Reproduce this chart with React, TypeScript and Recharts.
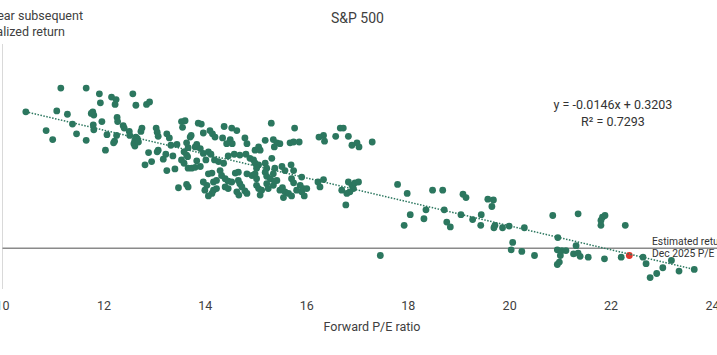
import React from 'react';
import { ScatterChart, Scatter, XAxis, YAxis, ReferenceLine } from 'recharts';

// Forward P/E ratio (x) and subsequent annualized return (y)
const forwardPE = [
  10.46, 10.86, 10.99, 11.07, 11.15, 11.28, 11.38, 11.46, 11.65, 11.65,
  11.78, 11.8, 11.75, 11.79, 11.8, 11.91, 11.93, 11.96, 12.03, 12.06,
  12.15, 12.24, 12.22, 12.26, 12.27, 12.25, 12.21, 12.19, 12.38, 12.4,
  12.5, 12.51, 12.57, 12.63, 12.63, 12.61, 12.59, 12.61, 12.66, 12.68,
  12.75, 12.73, 12.84, 12.9, 12.88, 12.81, 12.94, 13.03, 13.05, 13.07,
  13.07, 13.05, 13.17, 13.24, 13.29, 13.32, 13.22, 13.44, 13.36, 13.24,
  13.4, 13.53, 13.6, 13.55, 13.58, 13.63, 13.66, 13.53, 13.58, 13.66,
  13.47, 13.63, 13.66, 13.7, 13.86, 13.92, 14.37, 15.3, 15.76, 13.72,
  13.96, 14.09, 14.14, 14.19, 14.34, 14.52, 14.62, 14.49, 14.53, 14.42,
  14.78, 14.82, 14.98, 15.05, 15.08, 15.18, 15.34, 15.41, 15.36, 15.47,
  15.67, 15.74, 15.85, 13.63, 13.83, 13.8, 13.9, 13.96, 14.06, 14.11,
  14.01, 14.18, 13.65, 13.83, 13.73, 13.8, 13.9, 14.26, 14.36, 14.45,
  14.57, 14.68, 14.8, 14.88, 14.95, 14.98, 15.05, 15.01, 15.18, 15.21,
  15.31, 15.37, 15.51, 15.57, 15.69, 15.74, 15.9, 14.06, 14.13, 14.29,
  14.32, 14.59, 14.65, 14.82, 14.92, 14.98, 15.01, 15.18, 15.21, 15.28,
  15.34, 15.41, 15.7, 15.74, 13.96, 14.03, 13.99, 14.16, 14.22, 14.39,
  14.45, 14.52, 14.65, 14.68, 14.72, 14.78, 14.16, 14.13, 14.06, 14.22,
  14.39, 14.45, 14.62, 14.66, 15.01, 15.05, 15.11, 15.21, 15.24, 15.34,
  15.37, 15.47, 15.52, 15.57, 15.64, 15.7, 15.87, 15.9, 15.93, 16.0,
  15.95, 15.54, 15.08, 14.82, 16.33, 16.24, 16.35, 16.57, 16.66, 16.72,
  16.82, 16.89, 16.99, 17.03, 17.29, 16.22, 16.26, 16.33, 16.82, 16.89,
  16.95, 17.02, 16.92, 16.85, 16.69, 16.79, 16.77, 15.8, 17.79, 17.98,
  18.04, 17.92, 18.35, 18.31, 18.48, 18.68, 18.71, 18.76, 18.83, 19.08,
  19.14, 19.04, 19.27, 19.44, 19.43, 19.57, 19.68, 19.65, 19.71, 19.69,
  19.86, 19.99, 20.06, 20.03, 17.45, 20.29, 20.24, 20.49, 20.85, 21.35,
  20.95, 21.31, 20.94, 21.03, 21.11, 21.0, 20.98, 20.94, 21.26, 21.35,
  21.39, 21.55, 21.8, 21.83, 21.88, 21.8, 21.87, 22.28, 22.2, 22.63,
  22.69, 22.77, 22.9, 23.02, 23.19, 23.34, 23.64,
];

const subsequentReturn = [
  0.167, 0.144, 0.133, 0.168, 0.196, 0.164, 0.152, 0.14, 0.132, 0.196,
  0.167, 0.163, 0.165, 0.151, 0.145, 0.189, 0.178, 0.155, 0.12, 0.139,
  0.185, 0.182, 0.176, 0.16, 0.155, 0.138, 0.131, 0.129, 0.15, 0.147,
  0.143, 0.138, 0.189, 0.175, 0.136, 0.132, 0.128, 0.125, 0.134, 0.13,
  0.147, 0.143, 0.176, 0.179, 0.117, 0.102, 0.106, 0.147, 0.142, 0.137,
  0.12, 0.118, 0.109, 0.14, 0.135, 0.126, 0.115, 0.127, 0.113, 0.095,
  0.097, 0.155, 0.156, 0.148, 0.118, 0.114, 0.123, 0.108, 0.104, 0.098,
  0.074, 0.078, 0.075, 0.136, 0.153, 0.152, 0.149, 0.153, 0.147, 0.138,
  0.141, 0.144, 0.14, 0.136, 0.135, 0.147, 0.144, 0.133, 0.128, 0.128,
  0.135, 0.128, 0.12, 0.124, 0.12, 0.132, 0.133, 0.129, 0.124, 0.128,
  0.129, 0.13, 0.13, 0.129, 0.127, 0.124, 0.122, 0.116, 0.118, 0.115,
  0.108, 0.108, 0.112, 0.107, 0.098, 0.099, 0.1, 0.106, 0.104, 0.113,
  0.115, 0.114, 0.115, 0.11, 0.108, 0.104, 0.102, 0.098, 0.104, 0.098,
  0.11, 0.098, 0.1, 0.095, 0.102, 0.095, 0.087, 0.091, 0.092, 0.095,
  0.089, 0.092, 0.093, 0.091, 0.089, 0.091, 0.085, 0.093, 0.088, 0.085,
  0.091, 0.083, 0.085, 0.08, 0.081, 0.077, 0.071, 0.081, 0.083, 0.085,
  0.082, 0.081, 0.083, 0.079, 0.075, 0.07, 0.071, 0.067, 0.064, 0.073,
  0.075, 0.073, 0.069, 0.065, 0.077, 0.073, 0.071, 0.079, 0.073, 0.077,
  0.082, 0.071, 0.074, 0.069, 0.067, 0.064, 0.077, 0.069, 0.073, 0.073,
  0.064, 0.062, 0.065, 0.067, 0.138, 0.136, 0.131, 0.137, 0.147, 0.147,
  0.137, 0.126, 0.129, 0.124, 0.13, 0.081, 0.075, 0.084, 0.081, 0.077,
  0.08, 0.081, 0.073, 0.069, 0.071, 0.067, 0.053, 0.071, 0.078, 0.067,
  0.041, 0.028, 0.047, 0.036, 0.071, 0.071, 0.047, 0.032, 0.026, 0.066,
  0.062, 0.041, 0.035, 0.041, 0.028, 0.06, 0.059, 0.051, 0.028, 0.025,
  0.025, 0.027, 0.007, -0.002, -0.009, 0.025, -0.004, -0.009, 0.04, 0.042,
  0.013, 0.003, -0.002, -0.003, -0.003, -0.009, -0.017, -0.02, -0.007, -0.006,
  -0.01, -0.011, 0.034, 0.038, 0.04, 0.028, -0.013, 0.028, -0.011, -0.011,
  -0.019, -0.036, -0.031, -0.024, -0.015, -0.028, -0.026,
];

// Estimated return at the Dec 2025 forward P/E
const estimatePE = [22.36];
const estimateReturn = [-0.009];

// Linear trendline end points (y = -0.0146x + 0.3203)
const trendPE = [10.46, 23.64];
const trendReturn = [0.167, -0.026];

const xTicks = [10, 12, 14, 16, 18, 20, 22, 24];

const historyData = forwardPE.map((pe, i) => ({ pe, ret: subsequentReturn[i] }));
const estimateData = estimatePE.map((pe, i) => ({ pe, ret: estimateReturn[i] }));
const trendData = trendPE.map((pe, i) => ({ pe, ret: trendReturn[i] }));

const GREEN = '#2c775f';
const RED = '#e3352b';
const FONT = "'Segoe UI', Roboto, sans-serif";

const Dot = (color: string) => (props: any) => (
  <circle cx={props.cx} cy={props.cy} r={3.4} fill={color} />
);

const txt: React.CSSProperties = {
  position: 'absolute',
  whiteSpace: 'nowrap',
  fontFamily: FONT,
  color: '#404040',
};

export default function App() {
  return (
    <div
      style={{
        position: 'absolute',
        left: 0,
        top: 0,
        width: 717,
        height: 355,
        background: '#ffffff',
        overflow: 'hidden',
      }}
    >
      <ScatterChart
        width={717}
        height={355}
        margin={{ top: 44, right: 4.5, bottom: 36, left: 2.5 }}
      >
        <XAxis
          type="number"
          dataKey="pe"
          domain={[10, 24]}
          ticks={xTicks}
          interval={0}
          allowDataOverflow
          axisLine={false}
          tickLine={false}
          tickMargin={6}
          height={30}
          tick={{ fontSize: 12.5, fill: '#404040', fontFamily: FONT }}
        />
        <YAxis type="number" dataKey="ret" domain={[-0.05, 0.25]} hide allowDataOverflow />
        <ReferenceLine x={10} stroke="#d9d9d9" strokeWidth={1} />
        <ReferenceLine
          segment={[
            { x: 10, y: 0 },
            { x: 24.2, y: 0 },
          ]}
          ifOverflow="visible"
          stroke="#8a8a8a"
          strokeWidth={1.5}
        />
        <Scatter
          data={historyData}
          fill={GREEN}
          shape={Dot(GREEN)}
          isAnimationActive={false}
        />
        <Scatter
          data={estimateData}
          fill={RED}
          shape={Dot(RED)}
          isAnimationActive={false}
        />
        <Scatter
          data={trendData}
          line={{ stroke: GREEN, strokeWidth: 1.5, strokeDasharray: '1.5 1.5' }}
          shape={() => <g />}
          isAnimationActive={false}
        />
      </ScatterChart>

      <div style={{ ...txt, left: 0, width: 715, top: 9, textAlign: 'center', fontSize: 14, lineHeight: '18px' }}>
        S&amp;P 500
      </div>
      <div style={{ ...txt, right: 634, top: 7.5, fontSize: 12.5, lineHeight: '16px', textAlign: 'right' }}>
        5-year subsequent
      </div>
      <div style={{ ...txt, right: 652, top: 24, fontSize: 12.5, lineHeight: '16px', textAlign: 'right' }}>
        annualized return
      </div>
      <div style={{ ...txt, left: 513, width: 200, top: 97, textAlign: 'center', fontSize: 12.5, lineHeight: '16px', color: '#333' }}>
        y = -0.0146x + 0.3203
      </div>
      <div style={{ ...txt, left: 513, width: 200, top: 114, textAlign: 'center', fontSize: 12.5, lineHeight: '16px', color: '#333' }}>
        R² = 0.7293
      </div>
      <div style={{ ...txt, left: 652, top: 235.5, fontSize: 10.3, lineHeight: '12px', color: '#333' }}>
        Estimated return
      </div>
      <div style={{ ...txt, left: 652, top: 248, fontSize: 10.3, lineHeight: '12px', color: '#333' }}>
        Dec 2025 P/E ratio
      </div>
      <div style={{ ...txt, left: 272, width: 200, top: 319, textAlign: 'center', fontSize: 12.5, lineHeight: '16px' }}>
        Forward P/E ratio
      </div>
    </div>
  );
}
